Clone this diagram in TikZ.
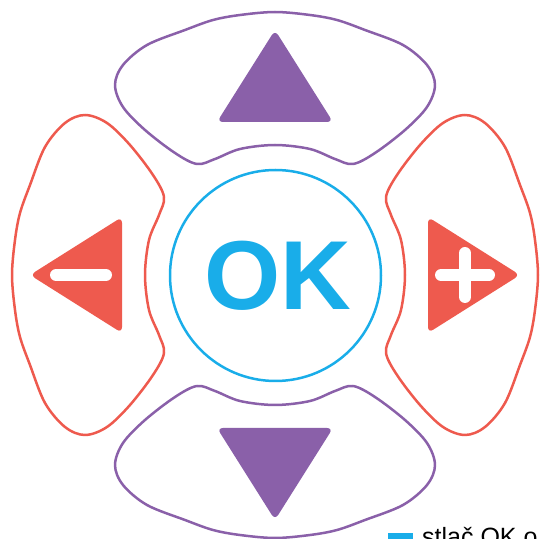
\documentclass[tikz,border=0pt]{standalone}
\usepackage{fontspec}
\setmainfont{Liberation Sans}
\definecolor{bpurple}{HTML}{8A60A9}
\definecolor{bred}{HTML}{EE5A4E}
\definecolor{bblue}{HTML}{19ADE9}
\tikzset{
  padshape/.pic={
    \draw[line width=2.5pt, line join=round] plot[smooth cycle, tension=0.55] coordinates {
      (0,263) (35,260) (62,255) (90,245) (128,230) (152,210) (160,190) (152,168) (130,145)
      (100,122) (78,111) (60,116) (35,126) (0,130) (-35,126) (-60,116) (-78,111) (-100,122)
      (-130,145) (-152,168) (-160,190) (-152,210) (-128,230) (-90,245) (-62,255) (-35,260)};
    \fill[rounded corners=6pt] (0,153) -- (58,153) -- (0,245) -- (-58,153) -- cycle;
  },
  signbar/.style={white, line width=12pt, line cap=round},
}
\begin{document}
\begin{tikzpicture}[x=1pt,y=1pt]
\useasboundingbox (0,0) rectangle (542,539);
\coordinate (C) at (275,264);
% pads
\pic[color=bpurple] at (C) {padshape};
\pic[color=bpurple, rotate=180] at (C) {padshape};
\pic[color=bred, rotate=90] at (C) {padshape};
\pic[color=bred, rotate=270] at (C) {padshape};
% minus sign
\coordinate (m1) at (106,264);
\coordinate (m2) at (56,264);
\draw[signbar] (m1) -- (m2);
% plus sign
\coordinate (p1) at (441,264);
\coordinate (p2) at (489,264);
\coordinate (p3) at (465,286);
\coordinate (p4) at (465,242);
\draw[signbar] (p1) -- (p2);
\draw[signbar] (p3) -- (p4);
% OK button
\draw[bblue, line width=2.5pt] (275.5,263.5) circle (105.5);
\node[bblue, anchor=base, inner sep=0pt, font=\fontsize{98}{98}\bfseries] (ok) at (277.5,229) {OK};
% legend (cut off)
\fill[bblue] (388,6) rectangle (413,-19);
\node[anchor=base west, inner sep=0pt, font=\fontsize{25}{25}\selectfont] (legend) at (422,-7) {stlač OK o};
\end{tikzpicture}
\end{document}
